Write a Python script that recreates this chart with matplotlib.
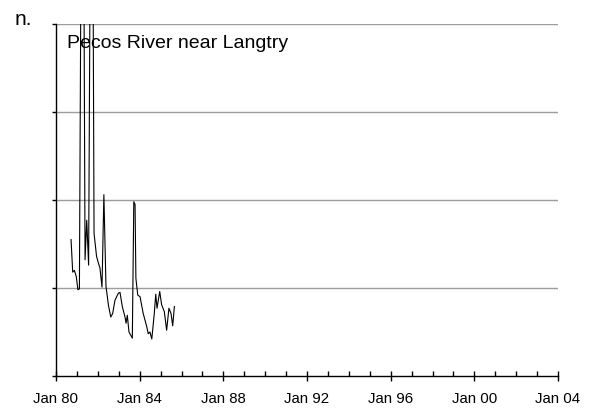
import matplotlib
matplotlib.use("Agg")
import matplotlib.pyplot as plt
import matplotlib.dates as mdates
import pandas as pd

# decimal years of each reading
YEARS = [
    1980.72, 1980.80, 1980.88, 1980.97, 1981.05, 1981.12, 1981.22, 1981.31,
    1981.39, 1981.47, 1981.56, 1981.66, 1981.75, 1981.82, 1981.94, 1982.03,
    1982.10, 1982.20, 1982.29, 1982.39, 1982.51, 1982.62, 1982.71, 1982.82,
    1982.98, 1983.06, 1983.17, 1983.30, 1983.35, 1983.41, 1983.49, 1983.65,
    1983.72, 1983.78, 1983.82, 1983.91, 1984.02, 1984.17, 1984.34, 1984.41,
    1984.49, 1984.58, 1984.70, 1984.77, 1984.83, 1984.96, 1985.05, 1985.18,
    1985.29, 1985.40, 1985.50, 1985.58, 1985.66,
]
VALUES = [
    1.55, 1.18, 1.20, 1.13, 0.98, 0.99, 6.0, 6.0,
    1.32, 1.77, 1.26, 6.0, 6.0, 1.62, 1.36, 1.28,
    1.23, 1.01, 2.06, 1.02, 0.80, 0.67, 0.71, 0.86,
    0.94, 0.95, 0.79, 0.67, 0.60, 0.69, 0.50, 0.43,
    1.98, 1.95, 1.11, 0.92, 0.90, 0.71, 0.56, 0.48,
    0.50, 0.42, 0.71, 0.93, 0.77, 0.96, 0.81, 0.73,
    0.52, 0.77, 0.71, 0.57, 0.79,
]
TITLE = "Pecos River near Langtry"
PANEL = "n."
GRID_LEVELS = [1, 2, 3, 4]


def to_dates(years):
    base = pd.Timestamp("1980-01-01")
    return [base + pd.to_timedelta((y - 1980) * 365.25, unit="D") for y in years]


def main():
    plt.rcParams["font.family"] = ["Liberation Sans", "DejaVu Sans"]
    fig = plt.figure(figsize=(5.93, 4.12), dpi=100)
    ax = fig.add_axes([0.0944, 0.0874, 0.8466, 0.8544])

    for lvl in GRID_LEVELS:
        ax.axhline(lvl, color="#9c9c9c", lw=1.0, zorder=1)

    ax.plot(to_dates(YEARS), VALUES, color="black", lw=0.8, zorder=2)

    ax.set_xlim(pd.Timestamp("1980-01-01"), pd.Timestamp("2004-01-01"))
    ax.set_ylim(0, 4)

    ax.xaxis.set_major_locator(mdates.YearLocator(4))
    ax.xaxis.set_minor_locator(mdates.YearLocator(1))
    ax.xaxis.set_major_formatter(mdates.DateFormatter("%b %y"))
    ax.tick_params(axis="x", which="major", direction="inout", length=7,
                   width=1, labelsize=10.8, pad=8)
    ax.tick_params(axis="x", which="minor", direction="in", length=3.5, width=1)

    ax.set_yticks([0] + GRID_LEVELS)
    ax.tick_params(axis="y", direction="out", length=3, width=1, labelleft=False)

    for side in ("top", "right"):
        ax.spines[side].set_visible(False)
    for side in ("left", "bottom"):
        ax.spines[side].set_linewidth(1.0)

    ax.text(0.021, 0.932, TITLE, transform=ax.transAxes, fontsize=14,
            va="baseline", ha="left")
    fig.text(15 / 593, 1 - 25 / 412, PANEL, fontsize=15, va="baseline", ha="left")

    fig.savefig("out.png", dpi=100)


if __name__ == "__main__":
    main()
